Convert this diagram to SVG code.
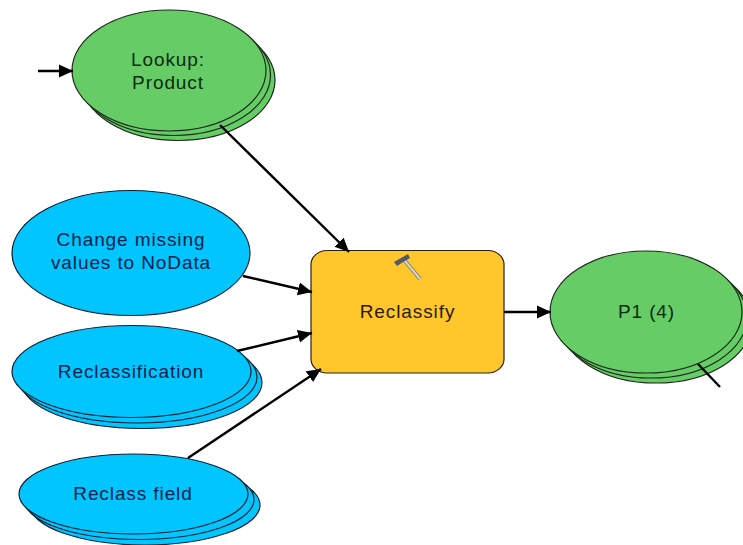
<svg xmlns="http://www.w3.org/2000/svg" width="743" height="545" viewBox="0 0 743 545">
<style>
.g{fill:#66cc66;stroke:#1c2a1c;stroke-width:1.2}
.b{fill:#00c5ff;stroke:#0c2030;stroke-width:1.2}
.o{fill:#ffc72c;stroke:#2a2010;stroke-width:1.2}
.c{stroke:#000;stroke-width:2.400;fill:none;marker-end:url(#a)}
text{font-family:"Liberation Sans",Arial,sans-serif;font-size:19px;letter-spacing:.9px;text-anchor:middle}
.gt{fill:#0f2a10}.bt{fill:#04204a}.ot{fill:#2a1a08}
</style>
<defs><marker id="a" markerUnits="userSpaceOnUse" markerWidth="16" markerHeight="14" refX="14" refY="7" orient="auto"><path d="M0 0.5L14 7L0 13.5Z" fill="#000"/></marker></defs>
<rect width="743" height="545" fill="#fff"/>
<g id="lookup-product">
<ellipse class="g" cx="178" cy="80" rx="97" ry="60.5"/>
<ellipse class="g" cx="173.500" cy="75" rx="97" ry="60.5"/>
<ellipse class="g" cx="169" cy="70.500" rx="97" ry="60.500"/>
<text class="gt" x="168" y="66">Lookup:</text>
<text class="gt" x="168" y="89">Product</text>
</g>
<g id="change-missing">
<ellipse class="b" cx="131" cy="253" rx="119" ry="62.500"/>
<text class="bt" x="131" y="246">Change missing</text>
<text class="bt" x="131" y="269">values to NoData</text>
</g>
<g id="reclassification">
<ellipse class="b" cx="142" cy="382.500" rx="120" ry="46"/>
<ellipse class="b" cx="137" cy="377" rx="120" ry="46"/>
<ellipse class="b" cx="131.500" cy="371.500" rx="119.500" ry="46"/>
<text class="bt" x="131" y="378">Reclassification</text>
</g>
<g id="reclass-field">
<ellipse class="b" cx="145" cy="505" rx="115" ry="40"/>
<ellipse class="b" cx="139" cy="499.500" rx="115" ry="40"/>
<ellipse class="b" cx="133.500" cy="494" rx="114.500" ry="40"/>
<text class="bt" x="133" y="500">Reclass field</text>
</g>
<g id="reclassify">
<rect class="o" x="311" y="250.500" width="193" height="122.500" rx="16" ry="14"/>
<path d="M405 261L420 279" stroke="#8d8d80" stroke-width="4"/>
<path d="M405 261L420 279" stroke="#e6e0c4" stroke-width="1.800"/>
<path d="M394 262L408 254L410 258L403 262L397 266Z" fill="#55586a"/>
<text class="ot" x="407.500" y="318">Reclassify</text>
</g>
<g id="p1">
<ellipse class="g" cx="656" cy="322" rx="96" ry="61"/>
<ellipse class="g" cx="651" cy="317" rx="96" ry="61"/>
<ellipse class="g" cx="646" cy="312" rx="96" ry="61"/>
<text class="gt" x="646.500" y="318">P1 (4)</text>
</g>
<g id="connectors">
<path class="c" d="M38 71H73"/>
<path class="c" d="M220 125L349 252"/>
<path class="c" d="M243 276L312 292"/>
<path class="c" d="M237 351L312 333"/>
<path class="c" d="M188 458L321 369"/>
<path class="c" d="M504 312H551"/>
<path class="c" style="marker-end:none" d="M698 364L720 387"/>
</g>
</svg>
